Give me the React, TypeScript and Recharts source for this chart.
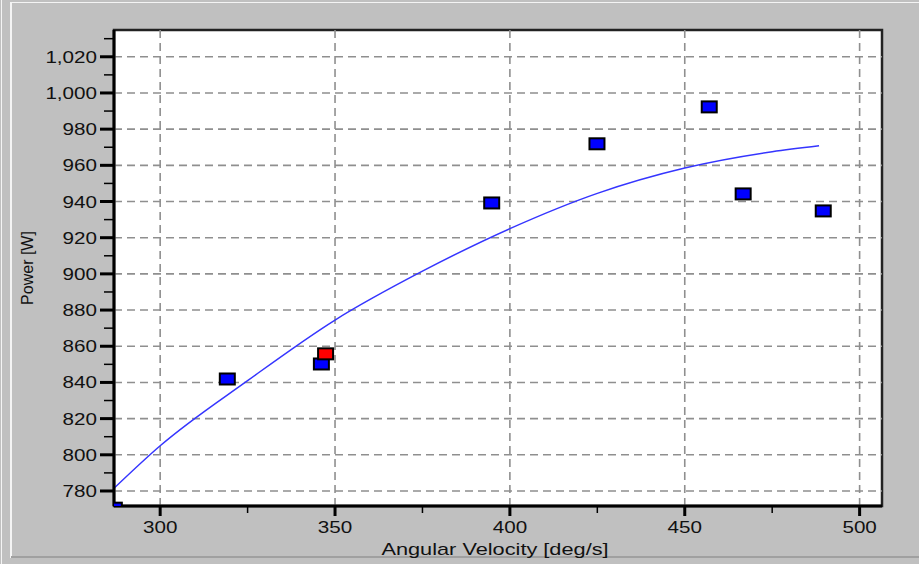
import {
  ComposedChart,
  Line,
  Scatter,
  XAxis,
  YAxis,
  CartesianGrid,
  ReferenceLine,
  ReferenceArea,
  Label,
} from "recharts";

// measured points (angular velocity vs power)
const MEASURED_X = [286.9, 319.2, 346.1, 394.8, 424.9, 457.0, 466.7, 489.6];
const MEASURED_Y = [770.5, 841.9, 850.2, 939.2, 971.9, 992.3, 944.2, 934.8];

// highlighted point
const SELECTED_X = [347.3];
const SELECTED_Y = [855.8];

// fitted curve
const FIT_X = [286.8, 300, 325, 350, 375, 400, 425, 450, 475, 488.4];
const FIT_Y = [781.5, 805, 841, 874.5, 901.5, 925, 944.5, 958.5, 967.5, 970.8];

const X_MAJOR = [300, 350, 400, 450, 500];
const X_MINOR = [325, 375, 425, 475];
const Y_MAJOR = [780, 800, 820, 840, 860, 880, 900, 920, 940, 960, 980, 1000, 1020];
const Y_MINOR = [790, 810, 830, 850, 870, 890, 910, 930, 950, 970, 990, 1010, 1030];

const X_DOMAIN: [number, number] = [286.8, 506.4];
const Y_DOMAIN: [number, number] = [771.7, 1034.8];

const measured = MEASURED_X.map((x, i) => ({ x, y: MEASURED_Y[i] }));
const selected = SELECTED_X.map((x, i) => ({ x, y: SELECTED_Y[i] }));
const fit = FIT_X.map((x, i) => ({ x, y: FIT_Y[i] }));

const FONT = "'Liberation Sans', Arial, sans-serif";
const STRETCH = 1.29; // the old bitmap font is wide

const YTick = (props: any) => {
  const { x, y, payload } = props;
  const major = Y_MAJOR.includes(payload.value);
  return (
    <g>
      <line
        x1={x - (major ? 14 : 10)}
        x2={x}
        y1={y}
        y2={y}
        stroke="#000"
        strokeWidth={major ? 3 : 1.5}
      />
      {major && (
        <text
          transform={`translate(${x - 17},${y + 6}) scale(${STRETCH},1)`}
          textAnchor="end"
          fontFamily={FONT}
          fontSize={16}
          fill="#111"
        >
          {payload.value.toLocaleString("en-US")}
        </text>
      )}
    </g>
  );
};

const XTick = (props: any) => {
  const { x, y, payload } = props;
  const major = X_MAJOR.includes(payload.value);
  return (
    <g>
      <line
        x1={x}
        x2={x}
        y1={y}
        y2={y + (major ? 10 : 7)}
        stroke="#000"
        strokeWidth={major ? 3 : 1.5}
      />
      {major && (
        <text
          transform={`translate(${x},${y + 27}) scale(${STRETCH},1)`}
          textAnchor="middle"
          fontFamily={FONT}
          fontSize={16}
          fill="#111"
        >
          {payload.value}
        </text>
      )}
    </g>
  );
};

const XTitle = (props: any) => {
  const { x, y, width, height } = props.viewBox;
  return (
    <text
      transform={`translate(${x + width / 2 - 3},${y + height - 9}) scale(1.36,1)`}
      textAnchor="middle"
      fontFamily={FONT}
      fontSize={16}
      fill="#111"
    >
      Angular Velocity [deg/s]
    </text>
  );
};

const Marker = (color: string) => (props: any) => {
  const { cx, cy } = props;
  return (
    <rect
      x={cx - 7.5}
      y={cy - 5.5}
      width={15}
      height={11}
      fill={color}
      stroke="#000"
      strokeWidth={2}
    />
  );
};

export default function App() {
  return (
    <div
      style={{
        position: "absolute",
        left: 0,
        top: 0,
        width: 919,
        height: 564,
        background: "#c0c0c0",
        overflow: "hidden",
      }}
    >
      {/* window frame lines */}
      <div style={{ position: "absolute", left: 1, top: 0, width: 1, height: 564, background: "#f4f4f4" }} />
      <div style={{ position: "absolute", left: 11, top: 2, width: 908, height: 1, background: "#f4f4f4" }} />
      <div style={{ position: "absolute", left: 10, top: 2, width: 2, height: 556, background: "#f4f4f4" }} />
      <div style={{ position: "absolute", left: 11, top: 556, width: 908, height: 2, background: "#a0a0a0" }} />

      <div style={{ position: "absolute", left: 0, top: 0 }}>
        <ComposedChart
          width={919}
          height={564}
          margin={{ top: 30, right: 37, bottom: 0, left: 0 }}
        >
          <CartesianGrid fill="#ffffff" horizontal={false} vertical={false} />
          {X_MAJOR.map((v) => (
            <ReferenceLine
              key={"vx" + v}
              x={v}
              stroke="#8f8f8f"
              strokeWidth={1.6}
              strokeDasharray="8 5"
            />
          ))}
          {Y_MAJOR.map((v) => (
            <ReferenceLine
              key={"hy" + v}
              y={v}
              stroke="#8f8f8f"
              strokeWidth={1.6}
              strokeDasharray="8 5"
            />
          ))}
          <ReferenceArea
            x1={X_DOMAIN[0]}
            x2={X_DOMAIN[1]}
            y1={Y_DOMAIN[0]}
            y2={Y_DOMAIN[1]}
            fill="none"
            stroke="#222"
            strokeWidth={2.5}
          />
          <XAxis
            type="number"
            dataKey="x"
            domain={X_DOMAIN}
            allowDataOverflow
            ticks={[...X_MAJOR, ...X_MINOR].sort((a, b) => a - b)}
            interval={0}
            height={58}
            tickSize={0}
            tickMargin={0}
            tickLine={false}
            tick={<XTick />}
            axisLine={{ stroke: "#000", strokeWidth: 3 }}
          >
            <Label position="insideBottom" content={XTitle} />
          </XAxis>
          <YAxis
            type="number"
            dataKey="y"
            domain={Y_DOMAIN}
            allowDataOverflow
            ticks={[...Y_MAJOR, ...Y_MINOR].sort((a, b) => a - b)}
            interval={0}
            width={114}
            tickSize={0}
            tickMargin={0}
            tickLine={false}
            tick={<YTick />}
            axisLine={{ stroke: "#000", strokeWidth: 3 }}
            label={{
              value: "Power [W]",
              angle: -90,
              position: "insideLeft",
              offset: 27,
              fontSize: 16,
              fill: "#111",
              fontFamily: FONT,
              style: { textAnchor: "middle" },
            }}
          />
          <Line
            data={fit}
            dataKey="y"
            type="monotone"
            stroke="#3535ff"
            strokeWidth={1.5}
            dot={false}
            activeDot={false}
            isAnimationActive={false}
          />
          <Scatter
            data={measured}
            dataKey="y"
            shape={Marker("#0000ff")}
            isAnimationActive={false}
          />
          <Scatter
            data={selected}
            dataKey="y"
            shape={Marker("#ff0000")}
            isAnimationActive={false}
          />
        </ComposedChart>
      </div>
    </div>
  );
}
